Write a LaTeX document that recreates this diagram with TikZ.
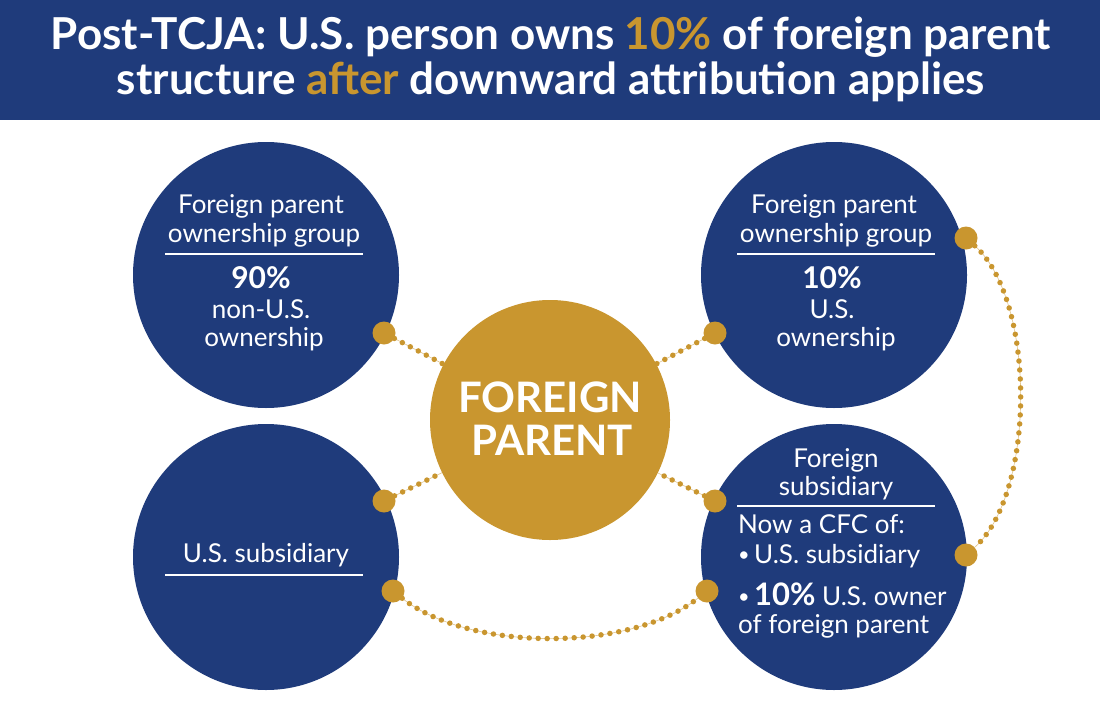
\documentclass[tikz,border=0pt]{standalone}
\usepackage{fontspec}
\setmainfont{Lato}
\definecolor{navy}{HTML}{1F3B7B}
\definecolor{gold}{HTML}{C9962F}
\begin{document}
\begin{tikzpicture}[x=1pt,y=-1pt,
  bigcirc/.style={circle, fill=navy, minimum size=266pt, inner sep=0pt},
  golddot/.style={circle, fill=gold, minimum size=23pt, inner sep=0pt},
  chain/.style={draw=gold!55, line width=0.6pt,
     postaction={draw=gold, line width=5.5pt, line cap=round, dash pattern=on 0pt off 9pt}},
  txt/.style={text=white, anchor=base, inner sep=0pt, font=\fontsize{26}{29}\selectfont},
  bigtxt/.style={text=white, anchor=base, inner sep=0pt, font=\fontsize{30}{32}\selectfont\bfseries},
  ltxt/.style={txt, anchor=base west},
  divider/.style={draw=white, line width=1.2pt},
  title/.style={text=white, anchor=base, inner sep=0pt, font=\fontsize{44}{48}\selectfont\bfseries}
]
\useasboundingbox (0,0) rectangle (1100,704);
\fill[white] (0,0) rectangle (1100,704);
\fill[navy] (0,0) rectangle (1100,120);
\node[title] (t1) at (551,49) {Post-TCJA: U.S. person owns \textcolor{gold}{10\%} of foreign parent};
\node[title] (t2) at (551,94) {structure \textcolor{gold}{after} downward attribution applies};

% circles
\node[bigcirc] (tl) at (266,275) {};
\node[bigcirc] (tr) at (834,275) {};
\node[bigcirc] (bl) at (266,557) {};
\node[bigcirc] (br) at (834,557) {};
\node[circle, fill=gold, minimum size=240pt, inner sep=0pt] (fp) at (550,420) {};

% gold dots
\node[golddot] (d1) at (384,333) {};
\node[golddot] (d2) at (715,333) {};
\node[golddot] (d3) at (966,238) {};
\node[golddot] (d4) at (384,501) {};
\node[golddot] (d5) at (715,501) {};
\node[golddot] (d6) at (393,591) {};
\node[golddot] (d7) at (707,591) {};
\node[golddot] (d8) at (966,555) {};

% connectors
\draw[chain] (d1) -- (fp);
\draw[chain] (d2) -- (fp);
\draw[chain] (d4) -- (fp);
\draw[chain] (d5) -- (fp);
\draw[chain] (d6) .. controls (470,652) and (630,652) .. (d7);
\draw[chain] (d3) .. controls (1036,300) and (1036,493) .. (d8);

% center text
\node[text=white, anchor=base, inner sep=0pt, font=\fontsize{42}{46}\selectfont\bfseries] (fp1) at (550,412) {FOREIGN};
\node[text=white, anchor=base, inner sep=0pt, font=\fontsize{42}{46}\selectfont\bfseries] (fp2) at (552,455) {PARENT};

% top-left
\node[txt] (a1) at (261,213) {Foreign parent};
\node[txt] (a2) at (264,242) {ownership group};
\draw[divider] (165,254) -- (363,254);
\node[bigtxt] (a3) at (261,288) {90\%};
\node[txt] (a4) at (261,318) {non-U.S.};
\node[txt] (a5) at (264,346) {ownership};

% top-right
\node[txt] (b1) at (834,213) {Foreign parent};
\node[txt] (b2) at (836,242) {ownership group};
\draw[divider] (737,254) -- (935,254);
\node[bigtxt] (b3) at (832,288) {10\%};
\node[txt] (b4) at (832,318) {U.S.};
\node[txt] (b5) at (836,346) {ownership};

% bottom-left
\node[txt] (c1) at (266,562) {U.S. subsidiary};
\draw[divider] (165,575) -- (363,575);

% bottom-right
\node[txt] (e1) at (836,467) {Foreign};
\node[txt] (e2) at (836,495) {subsidiary};
\draw[divider] (737,506) -- (935,506);
\node[ltxt] (e3) at (738,533) {Now a CFC of:};
\node[ltxt] (e4) at (738,563) {\raisebox{2pt}{\fontsize{20}{20}\selectfont•}\,U.S. subsidiary};
\node[ltxt] (e5) at (738,605) {\raisebox{2pt}{\fontsize{20}{20}\selectfont•}\,{\fontsize{31}{31}\selectfont\bfseries 10\%} U.S. owner};
\node[ltxt] (e6) at (738,633) {of foreign parent};
\end{tikzpicture}
\end{document}
